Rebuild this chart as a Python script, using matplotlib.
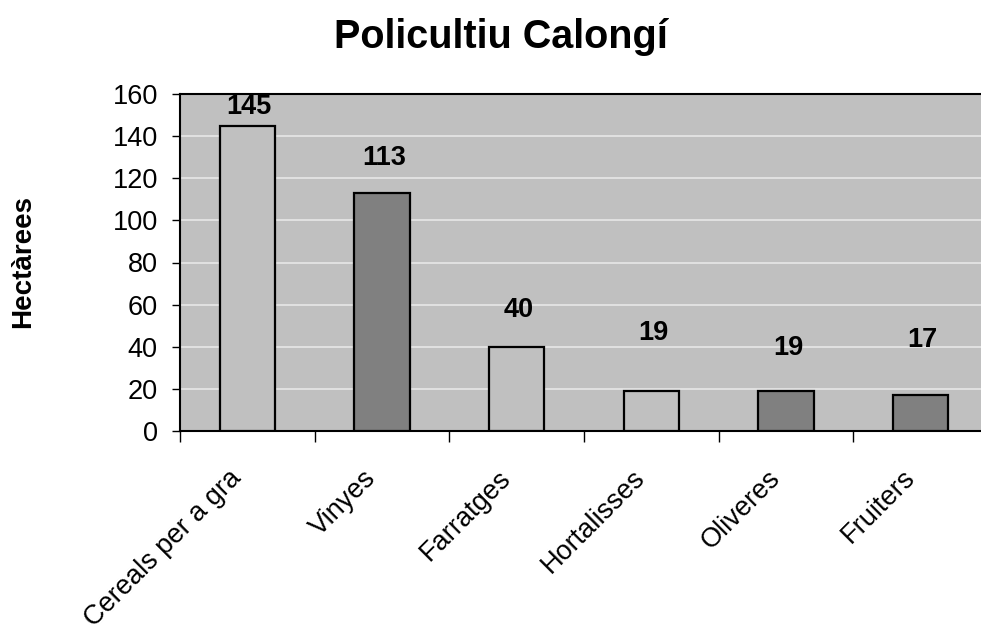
import numpy as np
import matplotlib.pyplot as plt
import matplotlib.transforms as mtransforms

# ── Data ──────────────────────────────────────────────────────────────────────
CATEGORIES = ['Cereals per a gra', 'Vinyes', 'Farratges', 'Hortalisses',
              'Oliveres', 'Fruiters']
HECTAREES = [145, 113, 40, 19, 19, 17]

# ── Style ─────────────────────────────────────────────────────────────────────
FONT = ['Liberation Sans', 'DejaVu Sans']
LIGHT = '#C0C0C0'
DARK = '#808080'
BAR_COLORS = [LIGHT, DARK, LIGHT, LIGHT, DARK, DARK]
# label offsets above bar tops, in pixels (mimics the original layout)
LABEL_OFFSETS = [19, 35, 37, 58, 43, 55]

plt.rcParams['font.family'] = FONT

fig = plt.figure(figsize=(9.81, 6.37), dpi=100, facecolor='white')
ax = fig.add_axes([180 / 981, 206 / 637, 808 / 981, 337 / 637])
ax.set_facecolor(LIGHT)

x = np.arange(len(CATEGORIES))
bars = ax.bar(x, HECTAREES, width=0.41, color=BAR_COLORS,
              edgecolor='black', linewidth=1.6, zorder=3)

for xi, v, off in zip(x, HECTAREES, LABEL_OFFSETS):
    ax.annotate(str(v), (xi, v), xytext=(2, off), textcoords='offset pixels',
                ha='center', va='center', fontsize=19.5, fontweight='bold',
                zorder=4)

ax.set_xlim(-0.5, len(CATEGORIES) - 0.5)
ax.set_ylim(0, 160)
ax.set_yticks(np.arange(0, 161, 20))
ax.yaxis.grid(True, color='#E4E4E4', lw=1.3, zorder=1)
ax.set_axisbelow(True)

ax.set_xticks(x)
ax.set_xticklabels(CATEGORIES, rotation=45, ha='right', va='center',
                   rotation_mode='anchor', fontsize=19.5)
ax.set_xticks(np.arange(-0.5, len(CATEGORIES)), minor=True)
ax.tick_params(axis='x', which='major', length=0, pad=31)
ax.tick_params(axis='x', which='minor', length=8, width=1, direction='out')
ax.tick_params(axis='y', labelsize=19.5, length=6, width=1, pad=10)

# nudge the rotated category labels left, after tick_params
shift = mtransforms.ScaledTranslation(-10 / 100, 0, fig.dpi_scale_trans)
for lab in ax.get_xticklabels():
    lab.set_transform(lab.get_transform() + shift)

for sp in ax.spines.values():
    sp.set_linewidth(1.5)
    sp.set_color('black')

fig.text(501 / 981, 1 - 48 / 637, 'Policultiu Calongí', ha='center',
         va='baseline', fontsize=28.5, fontweight='bold')
fig.text(23 / 981, 1 - 261 / 637, 'Hectàrees', rotation=90, ha='center',
         va='center', fontsize=20, fontweight='bold')

fig.savefig('out.png', dpi=100, facecolor='white')
